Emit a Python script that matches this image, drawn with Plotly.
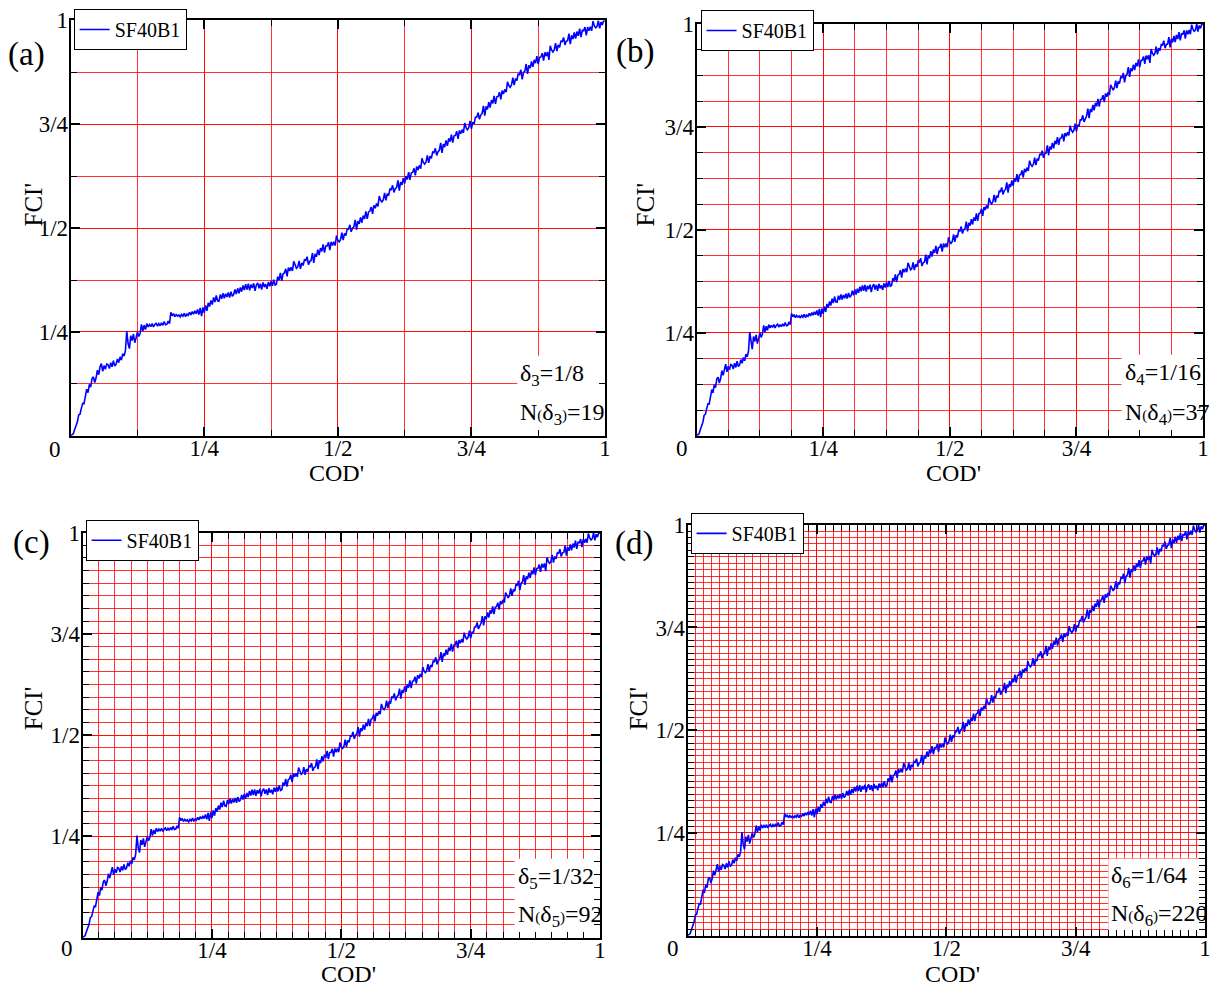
import plotly.graph_objects as go

# ---------------- data ----------------
cod = [0.0000,0.0025,0.0050,0.0075,0.0100,0.0125,0.0150,0.0175,0.0200,0.0225,
       0.0250,0.0275,0.0300,0.0325,0.0350,0.0375,0.0400,0.0425,0.0450,0.0475,
       0.0500,0.0525,0.0550,0.0575,0.0600,0.0625,0.0650,0.0675,0.0700,0.0725,
       0.0750,0.0775,0.0800,0.0825,0.0850,0.0875,0.0900,0.0925,0.0950,0.0975,
       0.1000,0.1025,0.1050,0.1075,0.1100,0.1125,0.1150,0.1175,0.1200,0.1225,
       0.1250,0.1275,0.1300,0.1325,0.1350,0.1375,0.1400,0.1425,0.1450,0.1475,
       0.1500,0.1525,0.1550,0.1575,0.1600,0.1625,0.1650,0.1675,0.1700,0.1725,
       0.1750,0.1775,0.1800,0.1825,0.1850,0.1875,0.1900,0.1925,0.1950,0.1975,
       0.2000,0.2025,0.2050,0.2075,0.2100,0.2125,0.2150,0.2175,0.2200,0.2225,
       0.2250,0.2275,0.2300,0.2325,0.2350,0.2375,0.2400,0.2425,0.2450,0.2475,
       0.2500,0.2525,0.2550,0.2575,0.2600,0.2625,0.2650,0.2675,0.2700,0.2725,
       0.2750,0.2775,0.2800,0.2825,0.2850,0.2875,0.2900,0.2925,0.2950,0.2975,
       0.3000,0.3025,0.3050,0.3075,0.3100,0.3125,0.3150,0.3175,0.3200,0.3225,
       0.3250,0.3275,0.3300,0.3325,0.3350,0.3375,0.3400,0.3425,0.3450,0.3475,
       0.3500,0.3525,0.3550,0.3575,0.3600,0.3625,0.3650,0.3675,0.3700,0.3725,
       0.3750,0.3775,0.3800,0.3825,0.3850,0.3875,0.3900,0.3925,0.3950,0.3975,
       0.4000,0.4025,0.4050,0.4075,0.4100,0.4125,0.4150,0.4175,0.4200,0.4225,
       0.4250,0.4275,0.4300,0.4325,0.4350,0.4375,0.4400,0.4425,0.4450,0.4475,
       0.4500,0.4525,0.4550,0.4575,0.4600,0.4625,0.4650,0.4675,0.4700,0.4725,
       0.4750,0.4775,0.4800,0.4825,0.4850,0.4875,0.4900,0.4925,0.4950,0.4975,
       0.5000,0.5025,0.5050,0.5075,0.5100,0.5125,0.5150,0.5175,0.5200,0.5225,
       0.5250,0.5275,0.5300,0.5325,0.5350,0.5375,0.5400,0.5425,0.5450,0.5475,
       0.5500,0.5525,0.5550,0.5575,0.5600,0.5625,0.5650,0.5675,0.5700,0.5725,
       0.5750,0.5775,0.5800,0.5825,0.5850,0.5875,0.5900,0.5925,0.5950,0.5975,
       0.6000,0.6025,0.6050,0.6075,0.6100,0.6125,0.6150,0.6175,0.6200,0.6225,
       0.6250,0.6275,0.6300,0.6325,0.6350,0.6375,0.6400,0.6425,0.6450,0.6475,
       0.6500,0.6525,0.6550,0.6575,0.6600,0.6625,0.6650,0.6675,0.6700,0.6725,
       0.6750,0.6775,0.6800,0.6825,0.6850,0.6875,0.6900,0.6925,0.6950,0.6975,
       0.7000,0.7025,0.7050,0.7075,0.7100,0.7125,0.7150,0.7175,0.7200,0.7225,
       0.7250,0.7275,0.7300,0.7325,0.7350,0.7375,0.7400,0.7425,0.7450,0.7475,
       0.7500,0.7525,0.7550,0.7575,0.7600,0.7625,0.7650,0.7675,0.7700,0.7725,
       0.7750,0.7775,0.7800,0.7825,0.7850,0.7875,0.7900,0.7925,0.7950,0.7975,
       0.8000,0.8025,0.8050,0.8075,0.8100,0.8125,0.8150,0.8175,0.8200,0.8225,
       0.8250,0.8275,0.8300,0.8325,0.8350,0.8375,0.8400,0.8425,0.8450,0.8475,
       0.8500,0.8525,0.8550,0.8575,0.8600,0.8625,0.8650,0.8675,0.8700,0.8725,
       0.8750,0.8775,0.8800,0.8825,0.8850,0.8875,0.8900,0.8925,0.8950,0.8975,
       0.9000,0.9025,0.9050,0.9075,0.9100,0.9125,0.9150,0.9175,0.9200,0.9225,
       0.9250,0.9275,0.9300,0.9325,0.9350,0.9375,0.9400,0.9425,0.9450,0.9475,
       0.9500,0.9525,0.9550,0.9575,0.9600,0.9625,0.9650,0.9675,0.9700,0.9725,
       0.9750,0.9775,0.9800,0.9825,0.9850,0.9875,0.9900,0.9925,0.9950,0.9975,
       1.0000]

fci = [0.000,0.002,0.005,0.015,0.023,0.033,0.050,0.052,0.066,0.078,
       0.077,0.098,0.112,0.104,0.124,0.117,0.138,0.142,0.128,0.139,
       0.158,0.147,0.166,0.174,0.155,0.169,0.160,0.173,0.171,0.162,
       0.176,0.166,0.181,0.168,0.172,0.185,0.176,0.190,0.182,0.198,
       0.192,0.205,0.252,0.222,0.210,0.241,0.229,0.245,0.224,0.236,
       0.250,0.239,0.247,0.268,0.252,0.266,0.256,0.270,0.262,0.268,
       0.263,0.270,0.262,0.268,0.271,0.264,0.270,0.265,0.272,0.266,
       0.275,0.267,0.268,0.276,0.270,0.297,0.289,0.294,0.287,0.292,
       0.288,0.291,0.286,0.292,0.288,0.295,0.287,0.293,0.290,0.297,
       0.291,0.299,0.293,0.301,0.294,0.304,0.292,0.308,0.288,0.309,
       0.296,0.314,0.301,0.320,0.311,0.326,0.316,0.333,0.322,0.338,
       0.325,0.324,0.340,0.330,0.343,0.331,0.342,0.334,0.345,0.333,
       0.347,0.336,0.340,0.352,0.341,0.355,0.343,0.357,0.347,0.362,
       0.351,0.365,0.352,0.366,0.350,0.364,0.356,0.367,0.349,0.363,
       0.368,0.355,0.366,0.352,0.369,0.358,0.365,0.354,0.370,0.360,
       0.372,0.361,0.376,0.363,0.365,0.383,0.375,0.392,0.373,0.390,
       0.392,0.402,0.384,0.405,0.397,0.406,0.397,0.420,0.409,0.403,
       0.406,0.421,0.402,0.416,0.410,0.424,0.422,0.431,0.412,0.420,
       0.422,0.440,0.416,0.438,0.431,0.448,0.435,0.452,0.444,0.461,
       0.441,0.457,0.457,0.466,0.447,0.467,0.458,0.467,0.458,0.482,
       0.471,0.467,0.472,0.489,0.471,0.487,0.482,0.498,0.497,0.508,
       0.491,0.500,0.503,0.520,0.496,0.517,0.510,0.526,0.513,0.530,
       0.522,0.540,0.522,0.539,0.541,0.551,0.534,0.555,0.548,0.559,
       0.552,0.577,0.567,0.563,0.568,0.585,0.567,0.583,0.578,0.594,
       0.593,0.603,0.586,0.595,0.598,0.615,0.590,0.611,0.604,0.620,
       0.607,0.625,0.617,0.635,0.616,0.633,0.634,0.644,0.627,0.648,
       0.640,0.651,0.643,0.668,0.658,0.654,0.659,0.675,0.657,0.673,
       0.668,0.683,0.682,0.692,0.675,0.684,0.687,0.705,0.681,0.702,
       0.695,0.711,0.698,0.716,0.708,0.725,0.706,0.722,0.723,0.733,
       0.715,0.735,0.727,0.737,0.729,0.753,0.742,0.737,0.742,0.758,
       0.739,0.755,0.751,0.767,0.767,0.778,0.762,0.772,0.776,0.794,
       0.771,0.793,0.786,0.803,0.790,0.808,0.800,0.818,0.799,0.816,
       0.817,0.827,0.810,0.831,0.823,0.834,0.827,0.852,0.843,0.839,
       0.845,0.862,0.844,0.860,0.855,0.871,0.870,0.881,0.858,0.875,
       0.878,0.895,0.871,0.892,0.885,0.901,0.888,0.905,0.897,0.914,
       0.895,0.911,0.912,0.921,0.903,0.923,0.914,0.924,0.905,0.939,
       0.929,0.924,0.929,0.945,0.926,0.941,0.935,0.950,0.949,0.959,
       0.941,0.950,0.951,0.968,0.943,0.964,0.955,0.971,0.956,0.973,
       0.963,0.980,0.960,0.976,0.975,0.984,0.964,0.984,0.975,0.985,
       0.975,0.998,0.987,0.982,0.985,1.000,0.981,0.996,0.989,1.000,
       0.998]

series_name = "SF40B1"
panel_labels = ["(a)", "(b)", "(c)", "(d)"]
delta_index = [3, 4, 5, 6]
delta_text = ["1/8", "1/16", "1/32", "1/64"]
divisions = [8, 16, 32, 64]
box_counts = [19, 37, 92, 220]
tick_vals = [0.25, 0.5, 0.75, 1.0]
tick_text = ["1/4", "1/2", "3/4", "1"]

# ---------------- layout geometry (pixels) ----------------
W, H = 1220, 989
plot_px = [(71, 8.5, 608, 429), (700, 12, 1209, 429),
           (83, 527, 603, 937), (691, 519, 1211, 935)]
legend_px = [(74, -3), (704, -2), (86, 514), (694, 507)]
cod_title_px = [(338, 467), (958, 467), (350, 974), (957, 974)]
fci_title_px = [(34, 195), (649, 195), (34, 705), (642, 705)]
label_px = [(27, 43), (638, 40), (32, 537), (637, 538)]
zero_px = [(55, 443), (685, 442), (67, 948), (676, 948)]
box_left = [0.836, 0.839, 0.835, 0.813]
box_top = [0.193, 0.197, 0.195, 0.1875]

FONT = "Liberation Serif"
RED = "rgba(255,0,0,0.8)"


def px(x):
    return x / W


def py(y):
    return 1 - y / H


fig = go.Figure()
annotations = []
shapes = []
layout = dict(width=W, height=H, margin=dict(l=0, r=0, t=0, b=0),
              paper_bgcolor="white", plot_bgcolor="white",
              font=dict(family=FONT, size=23, color="black"))

for i in range(4):
    sfx = "" if i == 0 else str(i + 1)
    xa, ya = "x" + sfx, "y" + sfx
    lg = "legend" + sfx
    l, t, r, b = plot_px[i]
    n = divisions[i]
    grid_vals = [k / n for k in range(n + 1)]

    fig.add_trace(go.Scatter(x=cod, y=fci, mode="lines", name=series_name,
                             line=dict(color="#0000ff", width=1.6),
                             xaxis=xa, yaxis=ya, legend=lg, showlegend=True))

    axis_common = dict(range=[0, 1], showline=True, linecolor="black", linewidth=2,
                       mirror="allticks", ticks="inside", ticklen=9, tickwidth=1.5,
                       tickcolor="black", showgrid=True, gridcolor=RED, gridwidth=1.3,
                       zeroline=False, tickmode="array", tickvals=tick_vals,
                       ticktext=tick_text, tickfont=dict(family=FONT, size=23),
                       minor=dict(tickmode="array", tickvals=grid_vals, ticks="inside",
                                  ticklen=6, tickwidth=1.3, tickcolor="black",
                                  showgrid=True, gridcolor=RED, gridwidth=1.3),
                       layer="above traces", fixedrange=True)
    layout["xaxis" + sfx] = dict(axis_common, domain=[px(l), px(r)], anchor=ya,
                                 ticklabelstandoff=-9)
    layout["yaxis" + sfx] = dict(axis_common, domain=[py(b), py(t)], anchor=xa,
                                 ticklabelstandoff=-4)

    lx, ly = legend_px[i]
    layout[lg] = dict(x=px(lx), y=py(ly), xanchor="left", yanchor="top",
                      bgcolor="white", bordercolor="black", borderwidth=1,
                      font=dict(family=FONT, size=20), itemwidth=30,
                      tracegroupgap=0)

    # white box behind the delta / N annotation
    shapes.append(dict(type="rect", xref=xa, yref=ya, x0=box_left[i], x1=1.0,
                       y0=0.0, y1=box_top[i], fillcolor="white",
                       line=dict(width=0), layer="between"))

    k = delta_index[i]
    annotations.append(dict(xref=xa, yref=ya, x=box_left[i] + 0.002, y=box_top[i] * 0.76,
                            xanchor="left", yanchor="middle", showarrow=False,
                            text=f"δ<sub>{k}</sub>={delta_text[i]}",
                            font=dict(family=FONT, size=24)))
    annotations.append(dict(xref=xa, yref=ya, x=box_left[i] + 0.002, y=box_top[i] * 0.27,
                            xanchor="left", yanchor="middle", showarrow=False,
                            text=(f"N<span style='font-size:15px'>(</span>δ<sub>{k}</sub>"
                                  f"<span style='font-size:15px'>)</span>={box_counts[i]}"),
                            font=dict(family=FONT, size=24)))

    cx, cy = cod_title_px[i]
    annotations.append(dict(xref="paper", yref="paper", x=px(cx), y=py(cy),
                            xanchor="center", yanchor="middle", showarrow=False,
                            text="COD'", font=dict(family=FONT, size=24)))
    fx, fy = fci_title_px[i]
    annotations.append(dict(xref="paper", yref="paper", x=px(fx), y=py(fy),
                            xanchor="center", yanchor="middle", showarrow=False,
                            text="FCI'", textangle=-90, font=dict(family=FONT, size=25)))
    ax_, ay_ = label_px[i]
    annotations.append(dict(xref="paper", yref="paper", x=px(ax_), y=py(ay_),
                            xanchor="center", yanchor="middle", showarrow=False,
                            text=panel_labels[i], font=dict(family=FONT, size=33)))
    zx, zy = zero_px[i]
    annotations.append(dict(xref="paper", yref="paper", x=px(zx), y=py(zy),
                            xanchor="center", yanchor="middle", showarrow=False,
                            text="0", font=dict(family=FONT, size=23)))

layout["annotations"] = annotations
layout["shapes"] = shapes
fig.update_layout(**layout)
fig.write_html("out.html")
